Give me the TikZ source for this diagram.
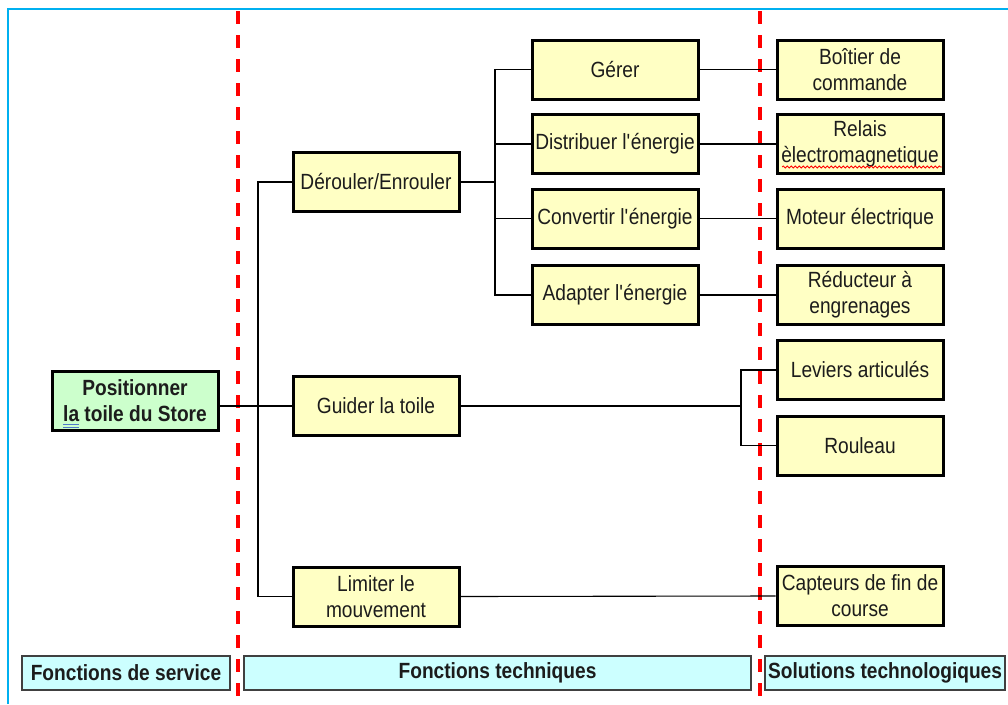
\documentclass[tikz,border=0pt]{standalone}
\usepackage{fontspec}
\setmainfont{Liberation Sans}[FakeStretch=0.87]
\usetikzlibrary{decorations.pathmorphing}
\definecolor{boxyellow}{RGB}{255,255,196}
\definecolor{boxgreen}{RGB}{204,255,204}
\definecolor{boxcyan}{RGB}{204,255,255}
\definecolor{framecol}{RGB}{0,176,240}
\definecolor{inkgray}{RGB}{28,28,28}
\definecolor{markblue}{RGB}{80,120,200}
\tikzset{
  fbox/.style={draw=black, line width=3pt, fill=boxyellow, minimum width=166pt,
    minimum height=59pt, inner sep=0pt, align=center, text=inkgray,
    font=\fontsize{22}{26}\selectfont},
  svc/.style={fbox, fill=boxgreen, font=\bfseries\fontsize{22}{26}\selectfont},
  band/.style={draw=black!75, line width=1.3pt, fill=boxcyan, minimum height=34pt,
    inner sep=0pt, text=inkgray, font=\bfseries\fontsize{22}{26}\selectfont},
  link/.style={draw=black, line width=1.1pt},
  divider/.style={draw=red, line width=3.5pt, dash pattern=on 13pt off 11pt},
}
\newcommand{\apos}{\textquotesingle}
\begin{document}
\begin{tikzpicture}[x=1pt,y=-1pt]
\useasboundingbox (0,0) rectangle (1008,704);
% outer frame
\draw[framecol, line width=2pt] (8,704) -- (8,9) -- (1008,9);
% column dividers
\draw[divider] (238,11) -- (238,704);
\draw[divider] (760,11) -- (760,704);

% service function
\node[svc] (pos) at (135,401) {Positionner\\la toile du Store};

% technical functions
\node[fbox] (der) at (376,182) {Dérouler/Enrouler};
\node[fbox] (gui) at (376,406) {Guider la toile};
\node[fbox] (lim) at (376,596.5) {Limiter le\\mouvement};

\node[fbox] (ger) at (615,69.5) {Gérer};
\node[fbox] (dis) at (615,144) {Distribuer l\apos énergie};
\node[fbox] (con) at (615,218.5) {Convertir l\apos énergie};
\node[fbox] (ada) at (615,295) {Adapter l\apos énergie};

% technological solutions
\node[fbox] (boi) at (860,69.5) {Boîtier de\\commande};
\node[fbox] (rel) at (860,144) {Relais\\èlectromagnetique};
\node[fbox] (mot) at (860,218.5) {Moteur électrique};
\node[fbox] (red) at (860,295) {Réducteur à\\engrenages};
\node[fbox] (lev) at (860,370) {Leviers articulés};
\node[fbox] (rou) at (860,445.5) {Rouleau};
\node[fbox] (cap) at (860,596) {Capteurs de fin de\\course};

% junction columns
\coordinate (b1) at (258,0);
\coordinate (b2) at (495,0);
\coordinate (b3) at (741,0);

% service -> technical
\draw[link] (pos.east |- gui.west) -- (gui.west);
\draw[link] (der.west) -- (der.west -| b1) |- (lim.west);

% Dérouler/Enrouler breakdown
\draw[link] (der.east) -- (der.east -| b2);
\draw[link] (ger.west) -- (ger.west -| b2) |- (ada.west);
\draw[link] (dis.west) -- (dis.west -| b2);
\draw[link] (con.west) -- (con.west -| b2);

% technical -> solutions
\draw[link] (ger.east) -- (boi.west);
\draw[link] (dis.east) -- (rel.west);
\draw[link] (con.east) -- (mot.west);
\draw[link] (ada.east) -- (red.west);
\draw[link] (gui.east) -- (gui.east -| b3);
\draw[link] (lev.west) -- (lev.west -| b3) |- (rou.west);
\draw[link] (lim.east) -- (cap.west);

% proofing marks under the text
\draw[markblue, line width=0.8pt] (63,424.5) -- (79,424.5) (63,427.5) -- (79,427.5);
\draw[red, line width=0.8pt, decorate,
  decoration={snake, amplitude=1pt, segment length=4pt}] (782,167) -- (942,167);

% column captions
\node[band, minimum width=208pt] (cs) at (126,673) {Fonctions de service};
\node[band, minimum width=507pt] (ct) at (497.5,673) {Fonctions techniques};
\node[band, minimum width=240pt] (cl) at (885,673) {Solutions technologiques};
\end{tikzpicture}
\end{document}
